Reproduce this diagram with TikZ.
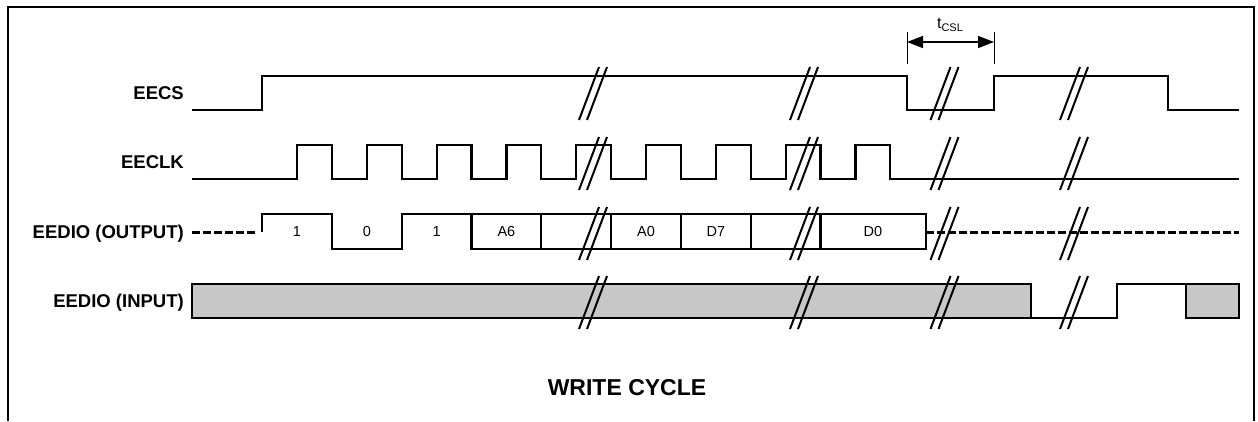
\documentclass[tikz,border=0pt]{standalone}
\usepackage{fontspec}
\setmainfont{Liberation Sans}
\usetikzlibrary{arrows.meta}

\begin{document}
\begin{tikzpicture}[x=1pt,y=-1pt,
  sig/.style={line width=2.2pt},
  brk/.style={line width=2pt},
  float/.style={sig,dash pattern=on 8pt off 3pt,line width=3pt},
  shade/.style={sig,fill=black!22},
  lbl/.style={anchor=east,inner sep=0pt,text height=13.3pt,text depth=0pt,font=\fontsize{18.5}{20}\selectfont\bfseries},
  bit/.style={inner sep=0pt,font=\fontsize{14.5}{16}\selectfont}]
\useasboundingbox (0,0) rectangle (1258,421);
\draw [line width=2.6pt] (8,421) -- (8,7) -- (1254,7) -- (1254,421);
\node [lbl] (cs) at (184,93) {EECS};
\node [lbl] (clk) at (184,162) {EECLK};
\node [lbl] (dout) at (184,232) {EEDIO (OUTPUT)};
\node [lbl] (din) at (184,301) {EEDIO (INPUT)};
\draw [sig] (192,110) -- (262,110) -- (262,76) -- (907,76) -- (907,110) -- (994,110) -- (994,76) -- (1168,76) -- (1168,110) -- (1239,110);
\draw [sig] (192,179) \foreach \k in {0,...,8} { -- (297+69.8*\k,179) -- (297+69.8*\k,145) -- (331.9+69.8*\k,145) -- (331.9+69.8*\k,179)} -- (1239,179);
\draw [float] (192,232) -- (257,232);
\draw [sig] (262,232) -- (262,214) -- (331.9,214) -- (331.9,249) -- (401.7,249) -- (401.7,214) -- (471.5,214);
\draw [sig] (471.5,214) rectangle (926,249);
\foreach \x in {541.3,611.1,680.9,750.7,820.5} \draw [sig] (\x,214) -- (\x,249);
\draw [float] (926,232) -- (1239,232);
\node [bit] (b1) at (297,232) {1};
\node [bit] (b2) at (366.8,232) {0};
\node [bit] (b3) at (436.6,232) {1};
\node [bit] (a6) at (506.4,232) {A6};
\node [bit] (a0) at (646,232) {A0};
\node [bit] (d7) at (715.8,232) {D7};
\node [bit] (d0) at (873,232) {D0};
\draw [shade] (192,284) rectangle (1031,318);
\draw [sig] (1031,318) -- (1117,318) -- (1117,284) -- (1186,284);
\draw [shade] (1186,284) rectangle (1239,318);
\foreach \c in {593,804,944.5,1074} \foreach \m in {93.5,163.5,233.5,302.5} {
  \draw [brk] (\c-14,\m+26.5) -- (\c+6,\m-26.5);
  \draw [brk] (\c-6,\m+26.5) -- (\c+14,\m-26.5);
}
\coordinate (csl0) at (907,42);
\coordinate (csl1) at (994,42);
\draw [line width=1pt] (907,32) -- (907,64) (994,32) -- (994,64);
\draw [line width=1.5pt,{Triangle[length=16pt,width=12pt]}-{Triangle[length=16pt,width=12pt]}] (csl0) -- (csl1);
\node [bit,font=\fontsize{16}{18}\selectfont] (tcsl) at (950,25) {t\raisebox{-3pt}{\fontsize{11}{12}\selectfont CSL}};
\node [font=\fontsize{23}{26}\selectfont\bfseries] (title) at (627,388) {WRITE CYCLE};
\end{tikzpicture}
\end{document}
